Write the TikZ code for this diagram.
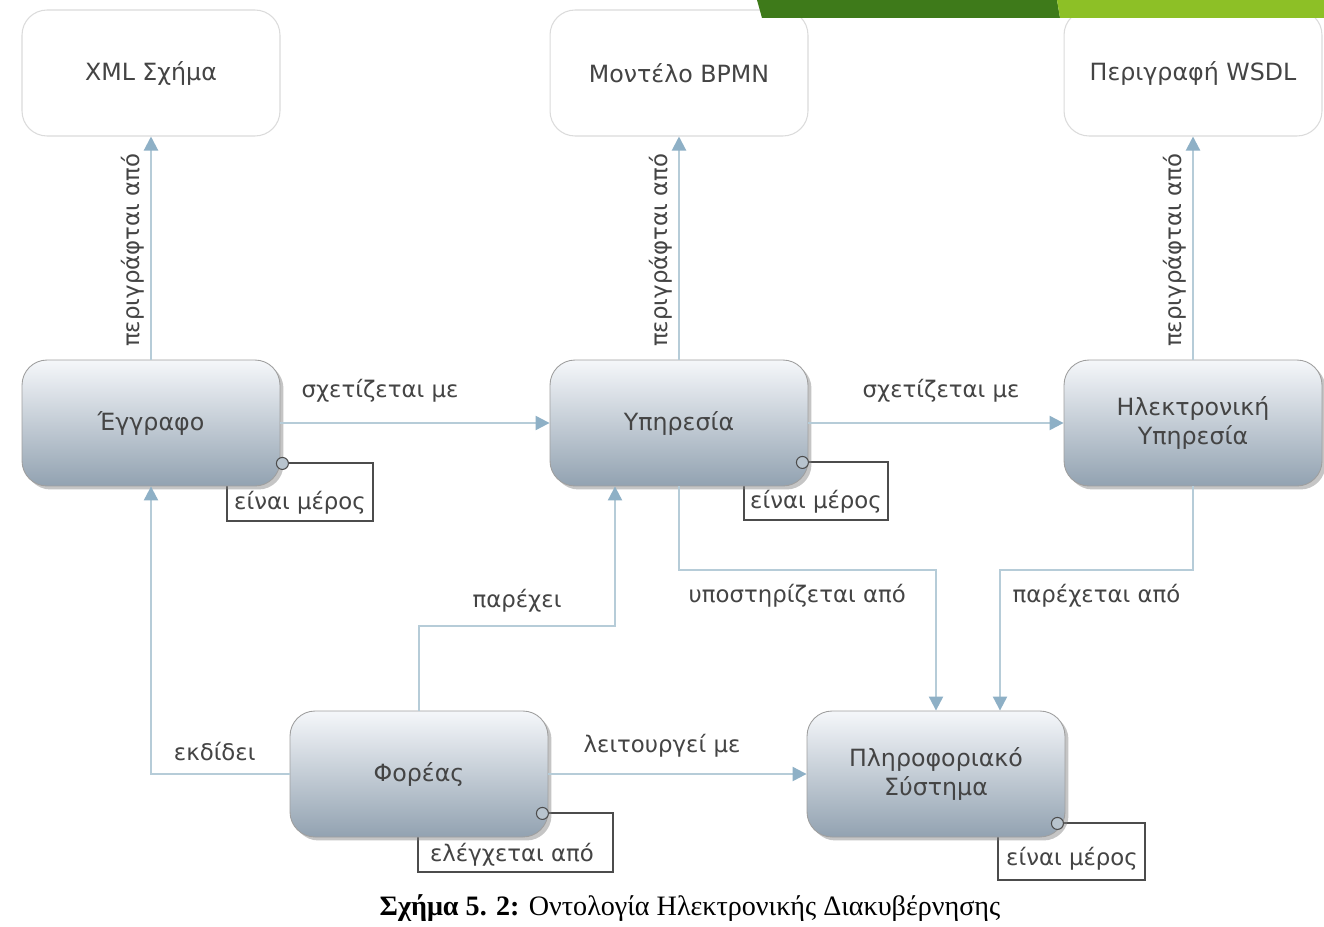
\documentclass[tikz,border=0pt]{standalone}
\usepackage{fontspec}
\setmainfont{DejaVu Sans}
\newfontfamily\capfont{Liberation Serif}
\usetikzlibrary{arrows.meta,shadows,calc}
\definecolor{txt}{HTML}{444444}
\definecolor{edgec}{HTML}{B6CCD8}
\definecolor{tipc}{HTML}{8EB0C6}
\definecolor{ntop}{HTML}{F5F7FA}
\definecolor{nbot}{HTML}{92A2B1}
\definecolor{dgreen}{HTML}{3E7A1A}
\definecolor{lgreen}{HTML}{8DC026}
\definecolor{circc}{HTML}{B8C4CE}
\begin{document}
\begin{tikzpicture}[x=0.02cm,y=-0.02cm,
  every node/.style={text=txt,font=\fontsize{13}{15.5}\selectfont},
  entity/.style={draw=gray!75, line width=0.5pt, rounded corners=0.5cm,
    minimum width=5.16cm, minimum height=2.52cm, top color=ntop, bottom color=nbot,
    align=center, font=\fontsize{13.5}{16}\selectfont,
    drop shadow={shadow xshift=0.07cm, shadow yshift=-0.07cm, opacity=0.45}},
  docbox/.style={draw=gray!28, line width=0.6pt, rounded corners=0.5cm,
    minimum width=5.16cm, minimum height=2.52cm, fill=white, align=center,
    font=\fontsize{13.5}{16}\selectfont},
  rel/.style={draw=edgec, line width=1.2pt, -{Triangle[length=8pt,width=8pt,color=tipc]}},
  lab/.style={inner sep=3pt},
  part/.style={draw=gray!60!black, line width=0.6pt},
  pcirc/.style={draw=gray!60!black, line width=0.6pt, fill=circc}
]
\useasboundingbox (0,0) rectangle (1324,926);
\fill[white] (0,0) rectangle (1324,926);

% top description boxes
\node[docbox] (xml)  at (151,73)  {XML Σχήμα};
\node[docbox] (bpmn) at (679,73)  {Μοντέλο BPMN};
\node[docbox] (wsdl) at (1193,73) {Περιγραφή WSDL};

% green bars
\fill[dgreen] (757,0) -- (1057,0) -- (1060,18) -- (762,18) -- cycle;
\fill[lgreen] (1057,0) -- (1324,0) -- (1324,18) -- (1060,18) -- cycle;

% loop frames (behind entities)
\draw[part] (282,463) -| (373,521) -| (227,486);
\draw[part] (802,462) -| (888,520) -| (744,486);
\draw[part] (542,813) -| (613,872) -| (418,837);
\draw[part] (1057,823) -| (1145,880) -| (998,837);

% entities
\node[entity] (doc)  at (151,423)  {Έγγραφο};
\node[entity] (svc)  at (679,423)  {Υπηρεσία};
\node[entity] (esvc) at (1193,423) {Ηλεκτρονική\\Υπηρεσία};
\node[entity] (org)  at (419,774)  {Φορέας};
\node[entity] (is)   at (936,774)  {Πληροφοριακό\\Σύστημα};

% loop circles and labels
\draw[pcirc] ($(doc.south east)+(2,-23)$) circle (0.12cm);
\draw[pcirc] ($(svc.south east)+(-6,-24)$) circle (0.12cm);
\draw[pcirc] ($(org.south east)+(-6,-24)$) circle (0.12cm);
\draw[pcirc] ($(is.south east)+(-8,-14)$) circle (0.12cm);
\node[lab] (l1) at (300,503) {είναι μέρος};
\node[lab] (l2) at (816,502) {είναι μέρος};
\node[lab] (l3) at (512,855) {ελέγχεται από};
\node[lab] (l4) at (1072,859) {είναι μέρος};

% described-by edges
\draw[rel] (doc.north) -- (xml.south) node[lab,pos=0.49,sloped,above] {περιγράφται από};
\draw[rel] (svc.north) -- (bpmn.south) node[lab,pos=0.49,sloped,above] {περιγράφται από};
\draw[rel] (esvc.north) -- (wsdl.south) node[lab,pos=0.49,sloped,above] {περιγράφται από};

% horizontal relations
\draw[rel] (doc.east) -- (svc.west) node[lab,pos=0.37,above=8pt] {σχετίζεται με};
\draw[rel] (svc.east) -- (esvc.west) node[lab,pos=0.52,above=8pt] {σχετίζεται με};
\draw[rel] (org.east) -- (is.west) node[lab,pos=0.44,above=6pt] {λειτουργεί με};

% routed relations
\draw[rel] (org.west) -| (doc.south) node[lab,pos=0.27,above=4pt] {εκδίδει};
\draw[rel] (org.north) -- ++(0,-85) -| ($(svc.south)+(-64,0)$) node[lab,pos=0.25,above=4pt] {παρέχει};
\draw[rel] (svc.south) -- ++(0,84) -| (is.north) node[lab,pos=0.23,below=4pt] {υποστηρίζεται από};
\draw[rel] (esvc.south) -- ++(0,84) -| ($(is.north)+(64,0)$) node[lab,pos=0.25,below=4pt] {παρέχεται από};

% caption
\node[text=black,font=\capfont\fontsize{16}{19}\selectfont] (cap) at (690,908)
  {\textbf{Σχήμα 5. 2:} Οντολογία Ηλεκτρονικής Διακυβέρνησης};
\end{tikzpicture}
\end{document}
